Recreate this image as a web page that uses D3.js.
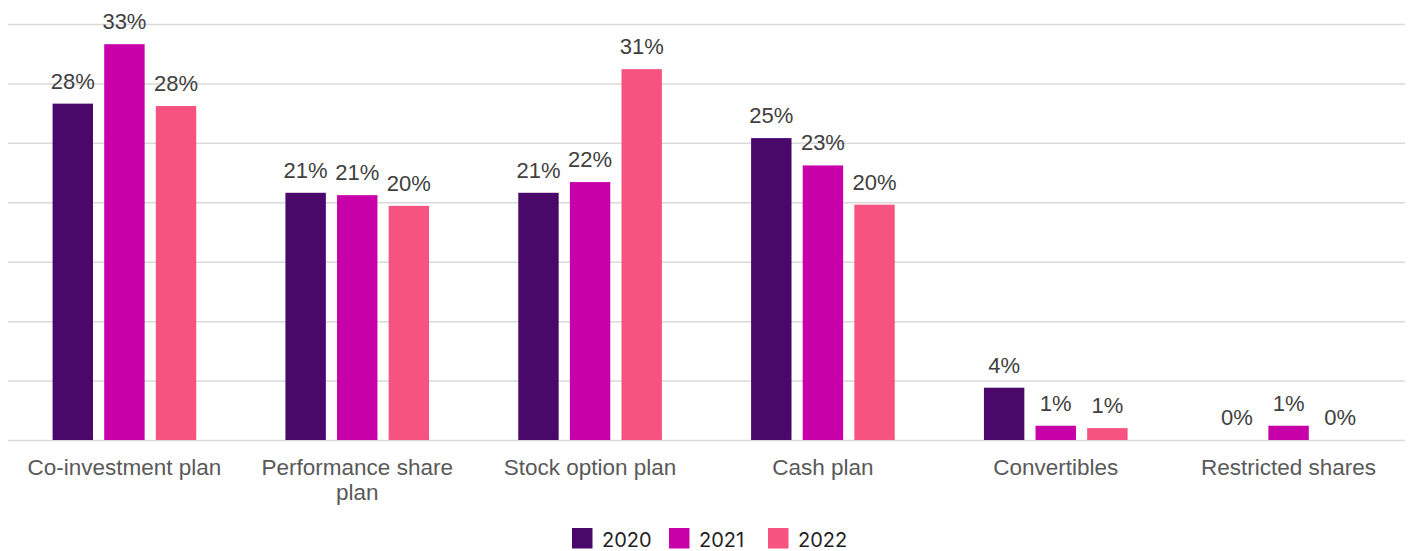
<!DOCTYPE html>
<html>
<head>
<meta charset="utf-8">
<script src="https://cdn.jsdelivr.net/npm/d3@7/dist/d3.min.js"></script>
<style>
  html, body { margin: 0; padding: 0; background: #ffffff; }
  svg { display: block; }
</style>
</head>
<body>
<svg id="chart" width="1410" height="551"></svg>
<script>
// Share of plans by type, per survey year (percent)
const categories = ["Co-investment plan", "Performance share plan", "Stock option plan", "Cash plan", "Convertibles", "Restricted shares"];
const years = ["2020", "2021", "2022"];
const values2020 = [28.3, 20.8, 20.8, 25.4, 4.4, 0];
const values2021 = [33.3, 20.6, 21.7, 23.1, 1.2, 1.2];
const values2022 = [28.1, 19.7, 31.2, 19.8, 1.0, 0];
const yTicks = [0, 5, 10, 15, 20, 25, 30, 35];
const colors = ["#4a086b", "#c800a9", "#f75380"];

const seriesValues = [values2020, values2021, values2022];
const rows = categories.map((c, i) => ({
  category: c,
  bars: years.map((yr, j) => ({ year: yr, value: seriesValues[j][i] }))
}));

const svg = d3.select("#chart");
const plot = { left: 8, right: 1405, top: 24, bottom: 440 };

const x0 = d3.scaleBand().domain(categories).range([plot.left, plot.right]).paddingInner(0).paddingOuter(0);
const x1 = d3.scaleBand().domain(years).range([0, x0.bandwidth()]).paddingInner(0.217).paddingOuter(0.864);
const y = d3.scaleLinear().domain([0, 35]).range([plot.bottom, plot.top]);
const color = d3.scaleOrdinal().domain(years).range(colors);

// horizontal gridlines
svg.append("g")
  .attr("class", "grid")
  .attr("transform", `translate(${plot.left},0)`)
  .call(d3.axisLeft(y).tickValues(yTicks).tickSize(-(plot.right - plot.left)).tickFormat(""))
  .call(g => g.select(".domain").remove())
  .call(g => g.selectAll("line").attr("stroke", "#d9d9d9").attr("stroke-width", 1.5));

// bars
const groups = svg.append("g").selectAll("g")
  .data(rows).join("g")
  .attr("transform", d => `translate(${x0(d.category)},0)`);

groups.selectAll("rect")
  .data(d => d.bars).join("rect")
  .attr("x", d => x1(d.year))
  .attr("width", x1.bandwidth())
  .attr("y", d => y(d.value))
  .attr("height", d => y(0) - y(d.value))
  .attr("fill", d => color(d.year));

// value labels
const fmt = v => Math.round(v) + "%";
groups.selectAll("text.value")
  .data(d => d.bars).join("text")
  .attr("class", "value")
  .attr("x", d => x1(d.year) + x1.bandwidth() / 2)
  .attr("y", d => y(d.value) - 15)
  .attr("text-anchor", "middle")
  .attr("font-family", "'Liberation Sans', Arial, sans-serif")
  .attr("font-size", 22)
  .attr("fill", "#404040")
  .text(d => fmt(d.value));

// category axis labels, wrapped to the band width
const xAxis = svg.append("g")
  .attr("transform", `translate(0,${plot.bottom})`)
  .call(d3.axisBottom(x0).tickSize(0).tickPadding(0))
  .call(g => g.select(".domain").remove());

xAxis.selectAll(".tick text")
  .attr("font-family", "'Liberation Sans', Arial, sans-serif")
  .attr("font-size", 22.5)
  .attr("fill", "#595959")
  .attr("y", 35)
  .attr("dy", 0)
  .each(function() {
    const text = d3.select(this);
    const words = text.text().split(/\s+/);
    const maxW = 222;
    text.text(null);
    let line = [];
    let tspan = text.append("tspan").attr("x", 0).attr("dy", 0);
    for (const w of words) {
      line.push(w);
      tspan.text(line.join(" "));
      if (tspan.node().getComputedTextLength() > maxW && line.length > 1) {
        line.pop();
        tspan.text(line.join(" "));
        line = [w];
        tspan = text.append("tspan").attr("x", 0).attr("dy", 24.5).text(w);
      }
    }
  });

// legend
const legendX = [572, 669, 768];
const legend = svg.append("g").selectAll("g")
  .data(years).join("g")
  .attr("transform", (d, i) => `translate(${legendX[i]},528)`);

legend.append("rect")
  .attr("width", 20.5)
  .attr("height", 20.5)
  .attr("fill", d => color(d));

legend.append("text")
  .attr("x", 30)
  .attr("y", 18.5)
  .attr("font-family", "Inter, 'Noto Sans', sans-serif")
  .attr("font-size", 20)
  .attr("fill", "#1f1f1f")
  .text(d => d);
</script>
</body>
</html>
